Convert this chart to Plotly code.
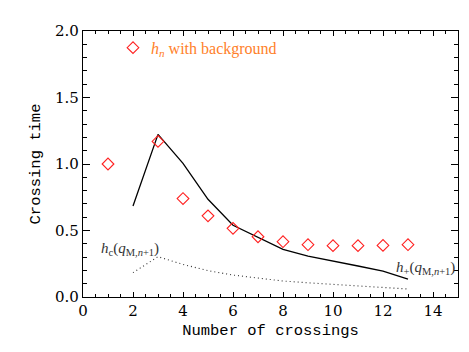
import plotly.graph_objects as go

# crossings and crossing times
n_diamond = [1, 2, 3, 4, 5, 6, 7, 8, 9, 10, 11, 12, 13]
h_background = [1.00, 1.875, 1.17, 0.74, 0.61, 0.516, 0.453, 0.416, 0.393, 0.386, 0.386, 0.388, 0.393]

n_line = [2, 3, 4, 5, 6, 7, 8, 9, 10, 11, 12, 13]
h_plus = [0.684, 1.223, 1.005, 0.735, 0.539, 0.446, 0.358, 0.308, 0.268, 0.233, 0.195, 0.135]
h_c = [0.183, 0.303, 0.245, 0.198, 0.165, 0.14, 0.12, 0.107, 0.096, 0.086, 0.075, 0.06]

x_ticks = [0, 2, 4, 6, 8, 10, 12, 14]
y_ticks = [0.0, 0.5, 1.0, 1.5, 2.0]
y_labels = ["0.0", "0.5", "1.0", "1.5", "2.0"]

tick_font = dict(family="DejaVu Serif", size=15, color="black")
title_font = dict(family="Liberation Mono", size=15.5, color="black")
note_font = "Liberation Serif"

fig = go.Figure()
fig.add_trace(go.Scatter(x=n_line, y=h_c, mode="lines",
                         line=dict(color="#333333", width=1.1, dash="1px,3px")))
fig.add_trace(go.Scatter(x=n_line, y=h_plus, mode="lines",
                         line=dict(color="black", width=1.3)))
fig.add_trace(go.Scatter(x=n_diamond, y=h_background, mode="markers",
                         marker=dict(symbol="diamond-open", size=9, color="#ff2020",
                                     line=dict(width=1.1, color="#ff2020"))))

fig.add_annotation(x=2.65, y=1.86, xanchor="left", yanchor="middle", showarrow=False,
                   text="<i>h<sub>n</sub></i> with background",
                   font=dict(family=note_font, size=16, color="#ff7f2a"))
fig.add_annotation(x=0.65, y=0.36, xanchor="left", yanchor="middle", showarrow=False,
                   text="<i>h</i><sub>c</sub>(<i>q</i><sub>M,<i>n</i>+1</sub>)",
                   font=dict(family=note_font, size=15, color="#333333"))
fig.add_annotation(x=12.45, y=0.215, xanchor="left", yanchor="middle", showarrow=False,
                   text="<i>h</i><sub>+</sub>(<i>q</i><sub>M,<i>n</i>+1</sub>)",
                   font=dict(family=note_font, size=15, color="#333333"))

fig.update_xaxes(range=[0, 15], tickvals=x_ticks, ticks="inside", ticklen=5,
                 tickwidth=1, tickcolor="black", showline=True, linecolor="black",
                 linewidth=1.3, mirror="ticks", showgrid=False, zeroline=False,
                 minor=dict(dtick=0.5, ticks="inside", ticklen=3, tickcolor="black"),
                 tickfont=tick_font, automargin=False,
                 title=dict(text="Number of crossings", font=title_font, standoff=4))
fig.update_yaxes(range=[0, 2], tickvals=y_ticks, ticktext=y_labels, ticks="inside",
                 ticklen=7, tickwidth=1, tickcolor="black", showline=True,
                 linecolor="black", linewidth=1.3, mirror="ticks", showgrid=False,
                 zeroline=False,
                 minor=dict(dtick=0.1, ticks="inside", ticklen=3.5, tickcolor="black"),
                 tickfont=tick_font, automargin=False,
                 title=dict(text="Crossing time", font=title_font, standoff=10))

fig.update_layout(width=469, height=352, showlegend=False,
                  plot_bgcolor="white", paper_bgcolor="white",
                  margin=dict(l=83, r=11, t=31, b=55))

# drop the browser's default body margin so the figure sits at the page corner
fig.write_html("out.html", config={"displayModeBar": False},
               post_script="document.body.style.margin='0';")
